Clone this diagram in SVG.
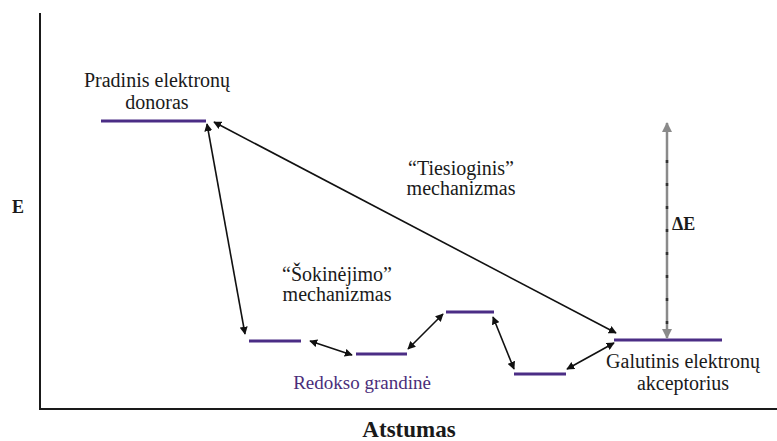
<svg xmlns="http://www.w3.org/2000/svg" width="777" height="441" viewBox="0 0 777 441" font-family="'Liberation Serif', 'DejaVu Serif', serif">
  <style>
    text { font-family: "Liberation Serif", "DejaVu Serif", serif; fill: #1a1a1a; }
    .lbl { font-size: 20px; text-anchor: middle; }
    .bold { font-weight: bold; }
    .level { stroke: #4b2d85; stroke-width: 3; fill: none; }
    .axis { stroke: #1a1a1a; stroke-width: 2; fill: none; }
    .link { stroke: #111; stroke-width: 1.6; fill: none; marker-start: url(#head); marker-end: url(#head); }
  </style>
  <defs>
    <marker id="head" viewBox="0 0 10 10" refX="9" refY="5" markerWidth="8" markerHeight="8" markerUnits="userSpaceOnUse" orient="auto-start-reverse">
      <path d="M0,0 L10,5 L0,10 Z" fill="#111"/>
    </marker>
    <marker id="grayhead" viewBox="0 0 10 10" refX="9" refY="5" markerWidth="10" markerHeight="10" markerUnits="userSpaceOnUse" orient="auto-start-reverse">
      <path d="M0,0 L10,5 L0,10 Z" fill="#8a8a8a"/>
    </marker>
  </defs>

  <rect width="777" height="441" fill="#ffffff"/>

  <!-- axes -->
  <g id="axes">
    <path class="axis" d="M40,13 V409 H777"/>
    <text class="bold" x="18" y="213" font-size="18" text-anchor="middle">E</text>
    <text class="bold" x="409" y="437" font-size="23" text-anchor="middle">Atstumas</text>
  </g>

  <!-- energy levels -->
  <g id="donor">
    <line class="level" x1="101" y1="121" x2="206" y2="121"/>
    <text class="lbl" x="157" y="87">Pradinis elektronų</text>
    <text class="lbl" x="157" y="109">donoras</text>
  </g>
  <g id="carrier1"><line class="level" x1="249" y1="341" x2="301" y2="341"/></g>
  <g id="carrier2"><line class="level" x1="356" y1="354" x2="407" y2="354"/></g>
  <g id="carrier3"><line class="level" x1="446" y1="312" x2="494" y2="312"/></g>
  <g id="carrier4"><line class="level" x1="514" y1="374" x2="566" y2="374"/></g>
  <g id="acceptor">
    <line class="level" x1="614" y1="340" x2="722" y2="340"/>
    <text class="lbl" x="683" y="368">Galutinis elektronų</text>
    <text class="lbl" x="683" y="390">akceptorius</text>
  </g>

  <!-- labels -->
  <g id="chain-label">
    <text x="362" y="389" font-size="19" text-anchor="middle" style="fill:#4a2d7a">Redokso grandinė</text>
  </g>
  <g id="hopping-label">
    <text class="lbl" x="337" y="281">“Šokinėjimo”</text>
    <text class="lbl" x="337" y="301">mechanizmas</text>
  </g>
  <g id="direct-label">
    <text class="lbl" x="461" y="175">“Tiesioginis”</text>
    <text class="lbl" x="461" y="195">mechanizmas</text>
  </g>

  <!-- energy gap -->
  <g id="delta-e">
    <line x1="667" y1="123" x2="667" y2="338" stroke="#8a8a8a" stroke-width="2.5" marker-start="url(#grayhead)" marker-end="url(#grayhead)"/>
    <line x1="667" y1="160" x2="667" y2="330" stroke="#333" stroke-width="2.5" stroke-dasharray="3 20"/>
    <text class="bold" x="672" y="230" font-size="18">ΔE</text>
  </g>

  <!-- electron transfer connectors -->
  <g id="connectors">
    <line class="link" x1="207" y1="124" x2="245" y2="334"/>
    <line class="link" x1="214" y1="122" x2="616" y2="333"/>
    <line class="link" x1="310" y1="341" x2="352" y2="355"/>
    <line class="link" x1="408" y1="349" x2="443" y2="314"/>
    <line class="link" x1="493" y1="317" x2="514" y2="369"/>
    <line class="link" x1="567" y1="369" x2="614" y2="343"/>
  </g>
</svg>
